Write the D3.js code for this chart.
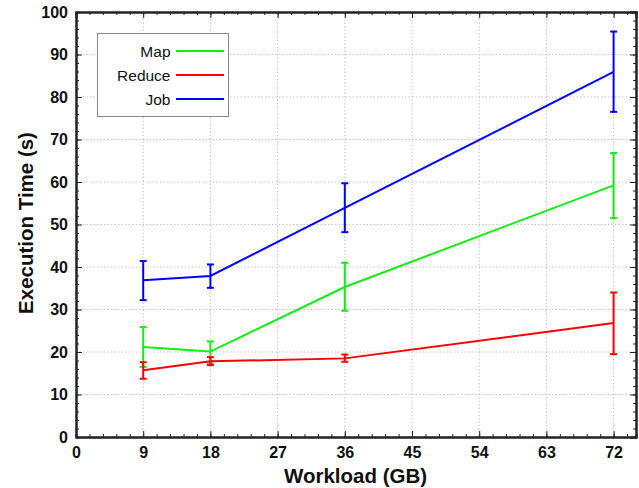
<!DOCTYPE html>
<html>
  <head>
    <meta charset="utf-8">
    <script src="https://cdn.jsdelivr.net/npm/d3@7/dist/d3.min.js"></script>
    <style>
      body { margin: 0; background: #fff; }
      text { font-family: "Liberation Sans", Arial, sans-serif; }
    </style>
  </head>
  <body>
    <svg width="639" height="488"></svg>
    <script>
      // workload sizes (GB)
      const workloads = [9, 18, 36, 72];

      const seriesNames = ["Map", "Reduce", "Job"];
      const seriesColors = ["#11ee11", "#ff0000", "#0000ff"];

      // mean execution time (s)
      const mapMean = [21.2, 20.1, 35.3, 59.2];
      const reduceMean = [15.7, 17.8, 18.5, 26.8];
      const jobMean = [36.9, 37.9, 53.9, 85.9];

      // error bar bounds
      const mapLow = [16.5, 17.3, 29.7, 51.5];
      const mapHigh = [25.9, 22.5, 41.0, 66.8];
      const reduceLow = [13.7, 16.9, 17.7, 19.5];
      const reduceHigh = [17.6, 18.8, 19.4, 34.0];
      const jobLow = [32.2, 35.1, 48.2, 76.5];
      const jobHigh = [41.4, 40.6, 59.7, 95.4];

      const xTicks = [0, 9, 18, 27, 36, 45, 54, 63, 72];
      const yTicks = [0, 10, 20, 30, 40, 50, 60, 70, 80, 90, 100];

      const series = [
        { name: seriesNames[0], color: seriesColors[0], mean: mapMean, low: mapLow, high: mapHigh },
        { name: seriesNames[1], color: seriesColors[1], mean: reduceMean, low: reduceLow, high: reduceHigh },
        { name: seriesNames[2], color: seriesColors[2], mean: jobMean, low: jobLow, high: jobHigh }
      ];

      const svg = d3.select("svg");
      const plotLeft = 76, plotTop = 12, plotRight = 636, plotBottom = 437;

      const x = d3.scaleLinear().domain([0, 75]).range([plotLeft, plotRight]);
      const y = d3.scaleLinear().domain([0, 100]).range([plotBottom, plotTop]);

      const xMinor = d3.range(0, 75.01, 1.8);
      const yMinor = d3.range(0, 100.01, 2);

      // grid
      const grid = svg.append("g")
          .attr("stroke", "#c4c4c4")
          .attr("stroke-width", 1)
          .attr("stroke-dasharray", "1.5,2");
      grid.selectAll(".gx").data(xTicks.slice(1)).enter().append("line")
          .attr("x1", d => x(d)).attr("x2", d => x(d))
          .attr("y1", plotTop).attr("y2", plotBottom);
      grid.selectAll(".gy").data(yTicks.slice(1, -1)).enter().append("line")
          .attr("x1", plotLeft).attr("x2", plotRight)
          .attr("y1", d => y(d)).attr("y2", d => y(d));

      // axes: ticks point inward on all four sides
      const axisColor = "#222";
      const bottomAxis = svg.append("g").attr("transform", `translate(0,${plotBottom})`)
          .call(d3.axisBottom(x).tickValues(xMinor).tickSize(-3).tickFormat(""));
      const bottomMajor = svg.append("g").attr("transform", `translate(0,${plotBottom})`)
          .call(d3.axisBottom(x).tickValues(xTicks).tickSizeInner(-6).tickSizeOuter(0).tickPadding(10));
      const topAxis = svg.append("g").attr("transform", `translate(0,${plotTop})`)
          .call(d3.axisTop(x).tickValues(xMinor).tickSize(-3).tickFormat(""));
      const topMajor = svg.append("g").attr("transform", `translate(0,${plotTop})`)
          .call(d3.axisTop(x).tickValues(xTicks).tickSize(-6).tickFormat(""));
      const leftAxis = svg.append("g").attr("transform", `translate(${plotLeft},0)`)
          .call(d3.axisLeft(y).tickValues(yMinor).tickSize(-3).tickFormat(""));
      const leftMajor = svg.append("g").attr("transform", `translate(${plotLeft},0)`)
          .call(d3.axisLeft(y).tickValues(yTicks).tickSizeInner(-6).tickSizeOuter(0).tickPadding(8));
      const rightAxis = svg.append("g").attr("transform", `translate(${plotRight},0)`)
          .call(d3.axisRight(y).tickValues(yMinor).tickSize(-3).tickFormat(""));
      const rightMajor = svg.append("g").attr("transform", `translate(${plotRight},0)`)
          .call(d3.axisRight(y).tickValues(yTicks).tickSize(-6).tickFormat(""));

      [bottomAxis, bottomMajor, topAxis, topMajor, leftAxis, leftMajor, rightAxis, rightMajor].forEach(g => {
        g.selectAll("path").attr("stroke", axisColor).attr("stroke-width", 2);
        g.selectAll("line").attr("stroke", axisColor).attr("stroke-width", 1);
      });

      bottomMajor.selectAll("text")
          .attr("font-size", 16).attr("font-weight", "bold").attr("fill", "#111")
          .attr("font-family", "Liberation Sans, Arial, sans-serif");
      leftMajor.selectAll("text")
          .attr("font-size", 16).attr("font-weight", "bold").attr("fill", "#111")
          .attr("font-family", "Liberation Sans, Arial, sans-serif");

      // axis titles
      svg.append("text")
          .attr("x", 355.5).attr("y", 483)
          .attr("text-anchor", "middle")
          .attr("font-size", 20.5).attr("font-weight", "bold").attr("fill", "#111")
          .text("Workload (GB)");
      svg.append("text")
          .attr("transform", "translate(33,223) rotate(-90)")
          .attr("text-anchor", "middle")
          .attr("font-size", 20.5).attr("font-weight", "bold").attr("fill", "#111")
          .text("Execution Time (s)");

      // series lines and error bars
      const line = d3.line()
          .x((d, i) => x(workloads[i]))
          .y(d => y(d));

      series.forEach(s => {
        const g = svg.append("g").attr("stroke", s.color).attr("stroke-width", 2).attr("fill", "none");
        g.append("path").attr("d", line(s.mean));
        workloads.forEach((w, i) => {
          g.append("line")
              .attr("x1", x(w)).attr("x2", x(w))
              .attr("y1", y(s.low[i])).attr("y2", y(s.high[i]));
          [s.low[i], s.high[i]].forEach(v => {
            g.append("line")
                .attr("x1", x(w) - 3.5).attr("x2", x(w) + 3.5)
                .attr("y1", y(v)).attr("y2", y(v));
          });
        });
      });

      // legend
      const legend = svg.append("g");
      legend.append("rect")
          .attr("x", 97.5).attr("y", 33.5).attr("width", 131).attr("height", 83)
          .attr("fill", "#fff").attr("stroke", "#888").attr("stroke-width", 1);
      series.forEach((s, i) => {
        const ly = 51 + i * 24;
        legend.append("text")
            .attr("x", 170.5).attr("y", ly + 5.5)
            .attr("text-anchor", "end")
            .attr("font-size", 15.5).attr("fill", "#111")
            .text(s.name);
        legend.append("line")
            .attr("x1", 176).attr("x2", 224)
            .attr("y1", ly).attr("y2", ly)
            .attr("stroke", s.color).attr("stroke-width", 2);
      });
    </script>
  </body>
</html>
